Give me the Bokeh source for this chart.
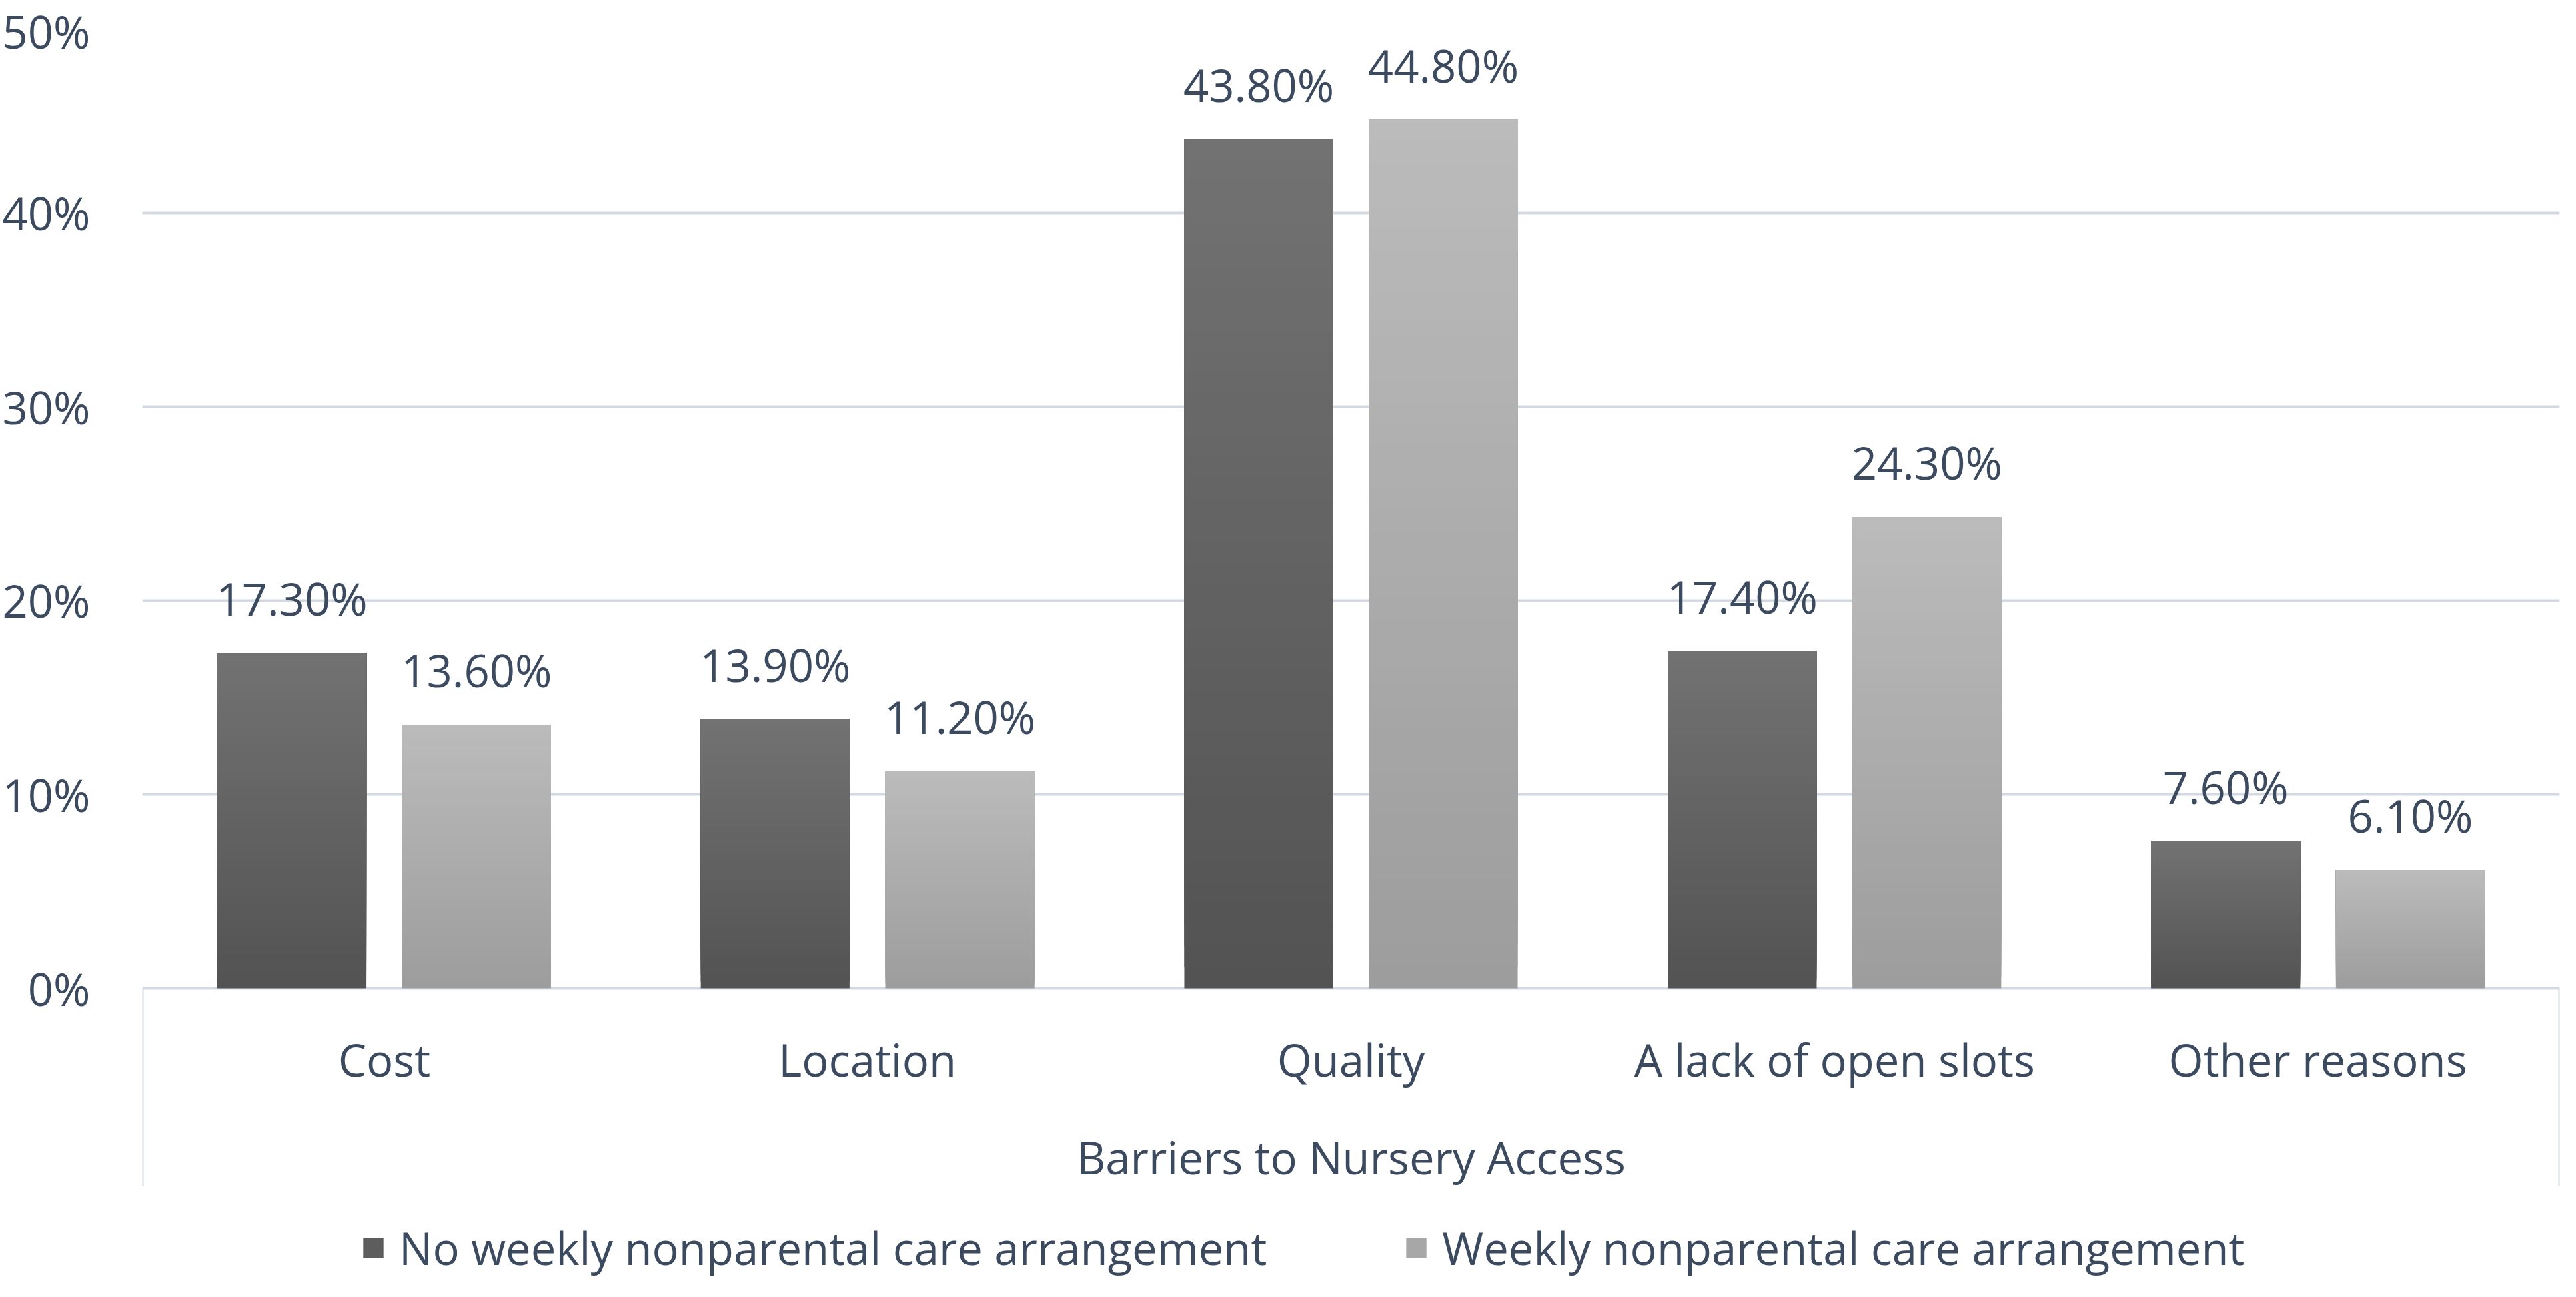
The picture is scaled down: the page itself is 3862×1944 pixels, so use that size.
from bokeh.plotting import figure
from bokeh.models import (ColumnDataSource, Range1d, FactorRange, FixedTicker,
                          PrintfTickFormatter, Legend, LegendItem, LinearAxis)
from bokeh.transform import dodge
from bokeh.core.properties import value
from bokeh.embed import file_html
from bokeh.resources import INLINE

categories = ["Cost", "Location", "Quality", "A lack of open slots", "Other reasons"]
no_weekly = [17.3, 13.9, 43.8, 17.4, 7.6]
weekly = [13.6, 11.2, 44.8, 24.3, 6.1]
series_names = ["No weekly nonparental care arrangement", "Weekly nonparental care arrangement"]
y_ticks = [0, 10, 20, 30, 40, 50]
x_title = "Barriers to Nursery Access"

FONT = "Open Sans"
TXT = "#3c4a5f"
GRID = "#d3d9e2"
FS = "67px"

W, H = 3846, 1928
TOP = 28
ZERO_Y = 1481          # figure px of 0%
PX_PER_UNIT = (ZERO_Y - TOP) / 50.0
Y_MIN = -(H - ZERO_Y) / PX_PER_UNIT
LINE_BOTTOM = -(1777 - ZERO_Y) / PX_PER_UNIT

p = figure(width=W, height=H, output_backend="svg", toolbar_location=None,
           x_range=FactorRange(*categories, range_padding=0),
           y_range=Range1d(Y_MIN, 50), x_axis_location=None, y_axis_location=None,
           min_border_left=202, min_border_right=9, min_border_top=TOP, min_border_bottom=0)
p.outline_line_color = None
p.background_fill_color = "white"
p.border_fill_color = "white"

yax = LinearAxis(ticker=FixedTicker(ticks=y_ticks), formatter=PrintfTickFormatter(format="%d%%"))
yax.axis_line_color = None
yax.major_tick_line_color = None
yax.minor_tick_line_color = None
yax.major_label_text_font = FONT
yax.major_label_text_font_size = FS
yax.major_label_text_color = TXT
yax.major_label_standoff = 72
p.add_layout(yax, "left")
p.ygrid.ticker = FixedTicker(ticks=y_ticks)
p.ygrid.grid_line_color = GRID
p.ygrid.grid_line_width = 4
p.xgrid.grid_line_color = None


def lerp(c1, c2, t):
    return "#%02x%02x%02x" % tuple(int(round(a + (b - a) * t)) for a, b in zip(c1, c2))


N = 40
OFF = 0.191
BW = 0.308
specs = [(no_weekly, -OFF, (0x53, 0x53, 0x53), (0x72, 0x72, 0x72)),
         (weekly, OFF, (0x9d, 0x9d, 0x9d), (0xbb, 0xbb, 0xbb))]
legend_renderers = []
for vals, off, cbot, ctop in specs:
    mid = None
    for k in range(N):
        src = ColumnDataSource(dict(cat=categories, top=vals,
                                    bottom=[v * k / N for v in vals]))
        r = p.vbar(x=dodge("cat", off, range=p.x_range), top="top", bottom="bottom",
                   width=BW, source=src, fill_color=lerp(cbot, ctop, k / (N - 1)),
                   line_color=None)
        if k == N // 3:
            mid = r
    legend_renderers.append(mid)
    lab = ColumnDataSource(dict(cat=categories, y=vals, t=["%.2f%%" % v for v in vals]))
    p.text(x=dodge("cat", off, range=p.x_range), y="y", text="t", source=lab,
           text_align="center", text_baseline="middle", y_offset=-82,
           text_font=value(FONT), text_font_size=FS, text_color=TXT)

# category labels
cl = ColumnDataSource(dict(cat=categories, y=[0] * len(categories)))
p.text(x="cat", y="y", text="cat", source=cl, text_align="center", text_baseline="middle",
       y_offset=106, text_font=value(FONT), text_font_size=FS, text_color=TXT)
# axis title
p.text(x=[len(categories) / 2.0], y=[0], text=[x_title], text_align="center",
       text_baseline="middle", y_offset=252, text_font=value(FONT), text_font_size=FS,
       text_color=TXT)
# category axis outer borders
p.segment(x0=[0, len(categories)], y0=[0, 0], x1=[0, len(categories)],
          y1=[LINE_BOTTOM, LINE_BOTTOM], line_color=GRID, line_width=4)

legend = Legend(items=[LegendItem(label=series_names[i], renderers=[legend_renderers[i]])
                       for i in range(2)],
                orientation="horizontal", location=(327, 12))
legend.label_text_font = FONT
legend.label_text_font_size = FS
legend.label_text_color = TXT
legend.glyph_width = 38
legend.glyph_height = 38
legend.label_standoff = 20
legend.spacing = 205
legend.padding = 0
legend.margin = 0
legend.border_line_color = None
legend.background_fill_alpha = 0
p.add_layout(legend)

open("out.html", "w").write(file_html(p, INLINE))
